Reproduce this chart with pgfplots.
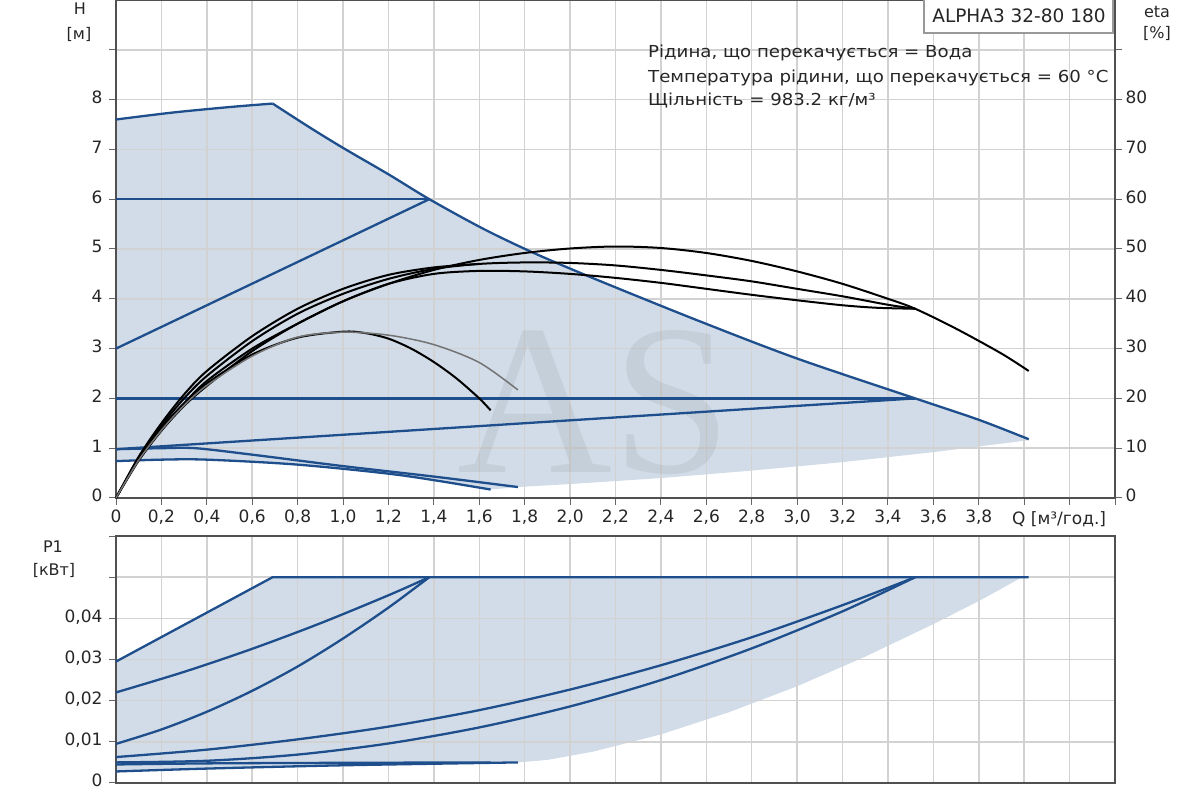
\documentclass[border=0pt]{standalone}
\usepackage{pgfplots}
\pgfplotsset{compat=1.18}
\usepackage{fontspec}
\setmainfont{DejaVu Sans}
\newfontfamily\wmfont{Liberation Serif}
\definecolor{fillblue}{HTML}{D1DCE8}
\definecolor{lineblue}{HTML}{1E4F8C}
\definecolor{gridgray}{HTML}{D2D2D2}
\definecolor{axisgray}{HTML}{505050}
\pgfplotsset{
  base/.style={
    scale only axis, width=999pt,
    xmin=0, xmax=4.4,
    tick label style={font=\fontsize{17}{20}\selectfont, text=black!85},
    typeset ticklabels with strut,
    axis line style={axisgray, line width=1.8pt},
    tick style={gray!80!black, line width=1pt}, major tick length=7pt,
    tick align=outside,
    clip=false,
  },
  blu/.style={lineblue, line width=2.3pt, no marks},
  blk/.style={black, line width=2pt, no marks, smooth},
}
\begin{document}
\begin{tikzpicture}[x=1pt,y=1pt]
% ---------------- H axis ----------------
\begin{axis}[base, set layers,
  at={(116pt,302pt)}, anchor=south west, height=498pt,
  ymin=0, ymax=10,
  xtick={0,0.2,0.4,0.6,0.8,1.0,1.2,1.4,1.6,1.8,2.0,2.2,2.4,2.6,2.8,3.0,3.2,3.4,3.6,3.8,4.0,4.2,4.4},
  xticklabels={0,{0,2},{0,4},{0,6},{0,8},{1,0},{1,2},{1,4},{1,6},{1,8},{2,0},{2,2},{2,4},{2,6},{2,8},{3,0},{3,2},{3,4},{3,6},{3,8},,,},
  ytick={0,1,2,3,4,5,6,7,8,9,10},
  yticklabels={0,1,2,3,4,5,6,7,8,,},
  yticklabel style={xshift=-3pt},
  xtick pos=left, ytick pos=left,
  grid=major, major grid style={gridgray, line width=1.5pt},
]
\addplot[fill=fillblue, draw=none, on layer=axis background] coordinates {
 (0,7.6) (0.25,7.74) (0.5,7.85) (0.69,7.92) (0.85,7.45) (1.0,7.03) (1.2,6.5) (1.38,6.0)
 (1.62,5.37) (1.85,4.9) (2.13,4.37) (2.57,3.53) (3.0,2.8) (3.52,2.0) (3.8,1.56) (4.02,1.18)
 (4.02,1.16) (3.6,0.92) (3.2,0.72) (2.8,0.55) (2.4,0.4) (2.0,0.28) (1.77,0.22) (1.65,0.17)
 (1.25,0.46) (0.8,0.67) (0.4,0.77) (0.2,0.77) (0,0.74)} -- cycle;
\node[text=black, opacity=0.06, inner sep=0pt, font=\wmfont\fontsize{150}{150}\selectfont] at (axis cs:2.11,1.92) {\scalebox{1.43}{AS}};
% max curve
\addplot[blu, smooth] coordinates {(0,7.6) (0.25,7.74) (0.5,7.85) (0.69,7.92)};
\addplot[blu, smooth] coordinates {(0.69,7.92) (0.85,7.45) (1.0,7.03) (1.2,6.5) (1.38,6.0)
 (1.62,5.4) (1.85,4.9) (2.13,4.36) (2.57,3.55) (3.0,2.8) (3.52,2.0) (3.8,1.57) (4.02,1.18)};
% constant / proportional pressure
\addplot[blu] coordinates {(0,6) (1.38,6)};
\addplot[blu] coordinates {(0,3) (1.38,6)};
\addplot[blu] coordinates {(0,2) (3.52,2)};
\addplot[blu] coordinates {(0,0.98) (3.52,2)};
\addplot[blu, smooth] coordinates {(0,0.98) (0.2,1.0) (0.35,1.0) (0.6,0.87) (1.0,0.64) (1.4,0.43) (1.77,0.22)};
\addplot[blu, smooth] coordinates {(0,0.74) (0.2,0.77) (0.4,0.77) (0.8,0.67) (1.25,0.46) (1.65,0.17)};
\end{axis}
% ---------------- eta axis ----------------
\begin{axis}[base,
  at={(116pt,302pt)}, anchor=south west, height=498pt,
  ymin=0, ymax=100,
  axis x line=none, axis y line*=right, xtick=\empty,
  ytick={0,10,20,30,40,50,60,70,80,90},
  yticklabels={0,10,20,30,40,50,60,70,80,},
]
\addplot[blk] coordinates {(0,0) (0.1,7.5) (0.2,13.5) (0.3,18.5) (0.4,22.5) (0.6,29.5) (0.8,35) (1.0,39.5) (1.2,43) (1.4,45.8) (1.6,47.8) (1.8,49.2) (2.0,50.1) (2.2,50.5) (2.4,50.2) (2.6,49.2) (2.8,47.6) (3.0,45.5) (3.2,43) (3.4,40) (3.52,38) (3.7,34) (3.9,29) (4.02,25.5)};
\addplot[blk] coordinates {(0,0) (0.1,8) (0.2,14.5) (0.3,20) (0.4,24.5) (0.6,31.5) (0.8,37) (1.0,41) (1.2,44) (1.4,46) (1.6,47) (1.8,47.3) (2.0,47.2) (2.2,46.7) (2.4,45.8) (2.6,44.7) (2.8,43.5) (3.0,42) (3.2,40.5) (3.4,38.8) (3.52,38)};
\addplot[blk] coordinates {(0,0) (0.1,7.8) (0.2,14) (0.3,19) (0.4,23.5) (0.6,30) (0.8,35) (1.0,39.5) (1.2,43) (1.4,45) (1.6,45.6) (1.8,45.5) (2.0,45) (2.2,44.2) (2.4,43.2) (2.6,42) (2.8,40.8) (3.0,39.7) (3.2,38.7) (3.35,38.2) (3.52,38)};
\addplot[blk] coordinates {(0,0) (0.1,8.3) (0.2,15) (0.3,20.8) (0.4,25.5) (0.6,32.5) (0.8,38) (1.0,42) (1.2,44.8) (1.4,46.3) (1.6,47)};
\addplot[blk] coordinates {(0,0) (0.1,7.8) (0.2,14) (0.3,19) (0.4,23) (0.6,28.8) (0.8,32.2) (1.0,33.4) (1.1,33.1) (1.2,32) (1.3,30) (1.4,27.3) (1.5,24) (1.6,20) (1.65,17.6)};
\addplot[blk, black!55, line width=1.5pt] coordinates {(0,0) (0.1,7.6) (0.2,13.6) (0.3,18.6) (0.4,22.6) (0.6,28.5) (0.8,32.3) (1.0,33.3) (1.2,32.7) (1.4,30.8) (1.6,27.2) (1.77,21.7)};
\end{axis}
% ---------------- P1 axis ----------------
\begin{axis}[base, set layers,
  at={(116pt,17pt)}, anchor=south west, height=247pt,
  ymin=0, ymax=0.06, scaled y ticks=false,
  xtick={0,0.2,0.4,0.6,0.8,1.0,1.2,1.4,1.6,1.8,2.0,2.2,2.4,2.6,2.8,3.0,3.2,3.4,3.6,3.8,4.0,4.2,4.4},
  xticklabels={},
  major x tick style={draw=none},
  ytick={0,0.01,0.02,0.03,0.04,0.05,0.06},
  yticklabels={0,{0,01},{0,02},{0,03},{0,04},,},
  yticklabel style={xshift=-3pt},
  xtick pos=left, ytick pos=left,
  grid=major, major grid style={gridgray, line width=1.5pt},
]
\addplot[fill=fillblue, draw=none, on layer=axis background] coordinates {
 (0,0.0295) (0.69,0.05) (3.99,0.05) (3.9,0.0472) (3.8,0.0442) (3.6,0.0386) (3.3,0.0307) (3.0,0.0235)
 (2.7,0.0172) (2.4,0.0118) (2.1,0.0076) (1.9,0.0056) (1.77,0.005) (1.0,0.0043) (0.4,0.0035) (0,0.0028)} -- cycle;
\addplot[blu] coordinates {(0,0.0295) (0.69,0.05) (4.02,0.05)};
\addplot[blu, smooth] coordinates {(0,0.022) (0.3,0.0270) (0.6,0.0326) (0.9,0.0388) (1.2,0.0456) (1.38,0.05)};
\addplot[blu, smooth] coordinates {(0,0.0095) (0.2,0.0130) (0.4,0.0173) (0.6,0.0224) (0.8,0.0283) (1.0,0.0351) (1.2,0.0426) (1.38,0.05)};
\addplot[blu, smooth] coordinates {(0,0.0063) (0.4,0.0081) (0.8,0.0106) (1.2,0.0137) (1.6,0.0177) (2.0,0.0227) (2.4,0.0286) (2.8,0.0354) (3.2,0.0432) (3.52,0.05)};
\addplot[blu, smooth] coordinates {(0,0.005) (0.4,0.0054) (0.8,0.0069) (1.2,0.0096) (1.6,0.0135) (2.0,0.0186) (2.4,0.025) (2.8,0.0327) (3.2,0.0417) (3.52,0.05)};
\addplot[blu, smooth] coordinates {(0,0.0045) (0.5,0.0048) (1.65,0.005)};
\addplot[blu, smooth] coordinates {(0,0.0028) (0.4,0.0035) (1.0,0.0043) (1.77,0.005)};
\end{axis}
% ---------------- texts ----------------
\begin{scope}[font=\fontsize{16}{19}\selectfont, text=black!85]
\node at (80,791) {H};
\node at (79,766) {[м]};
\node at (1157,788) {eta};
\node at (1157,767) {[\%]};
\node at (53,253) {P1};
\node at (54,230) {[кВт]};
\end{scope}
\node[anchor=west, inner sep=0pt, font=\fontsize{17}{20}\selectfont, text=black!85] at (1012,281) {Q [м³/год.]};
\draw[gray!80, line width=1.2pt, fill=white] (924,767) rectangle (1113,801);
\node[font=\fontsize{18.5}{21}\selectfont, text=black!85] at (1019,784) {ALPHA3 32-80 180};
\begin{scope}[font=\fontsize{16.5}{19}\selectfont, text=black!85]
\node[anchor=west, inner sep=0pt] at (648,747) {\scalebox{1.1}[1]{Рідина, що перекачується = Вода}};
\node[anchor=west, inner sep=0pt] at (648,722) {\scalebox{1.1}[1]{Температура рідини, що перекачується = 60 °C}};
\node[anchor=west, inner sep=0pt] at (648,699) {\scalebox{1.1}[1]{Щільність = 983.2 кг/м³}};
\end{scope}
\pgfresetboundingbox
\path[use as bounding box] (0,0) rectangle (1200,800);
\end{tikzpicture}
\end{document}
